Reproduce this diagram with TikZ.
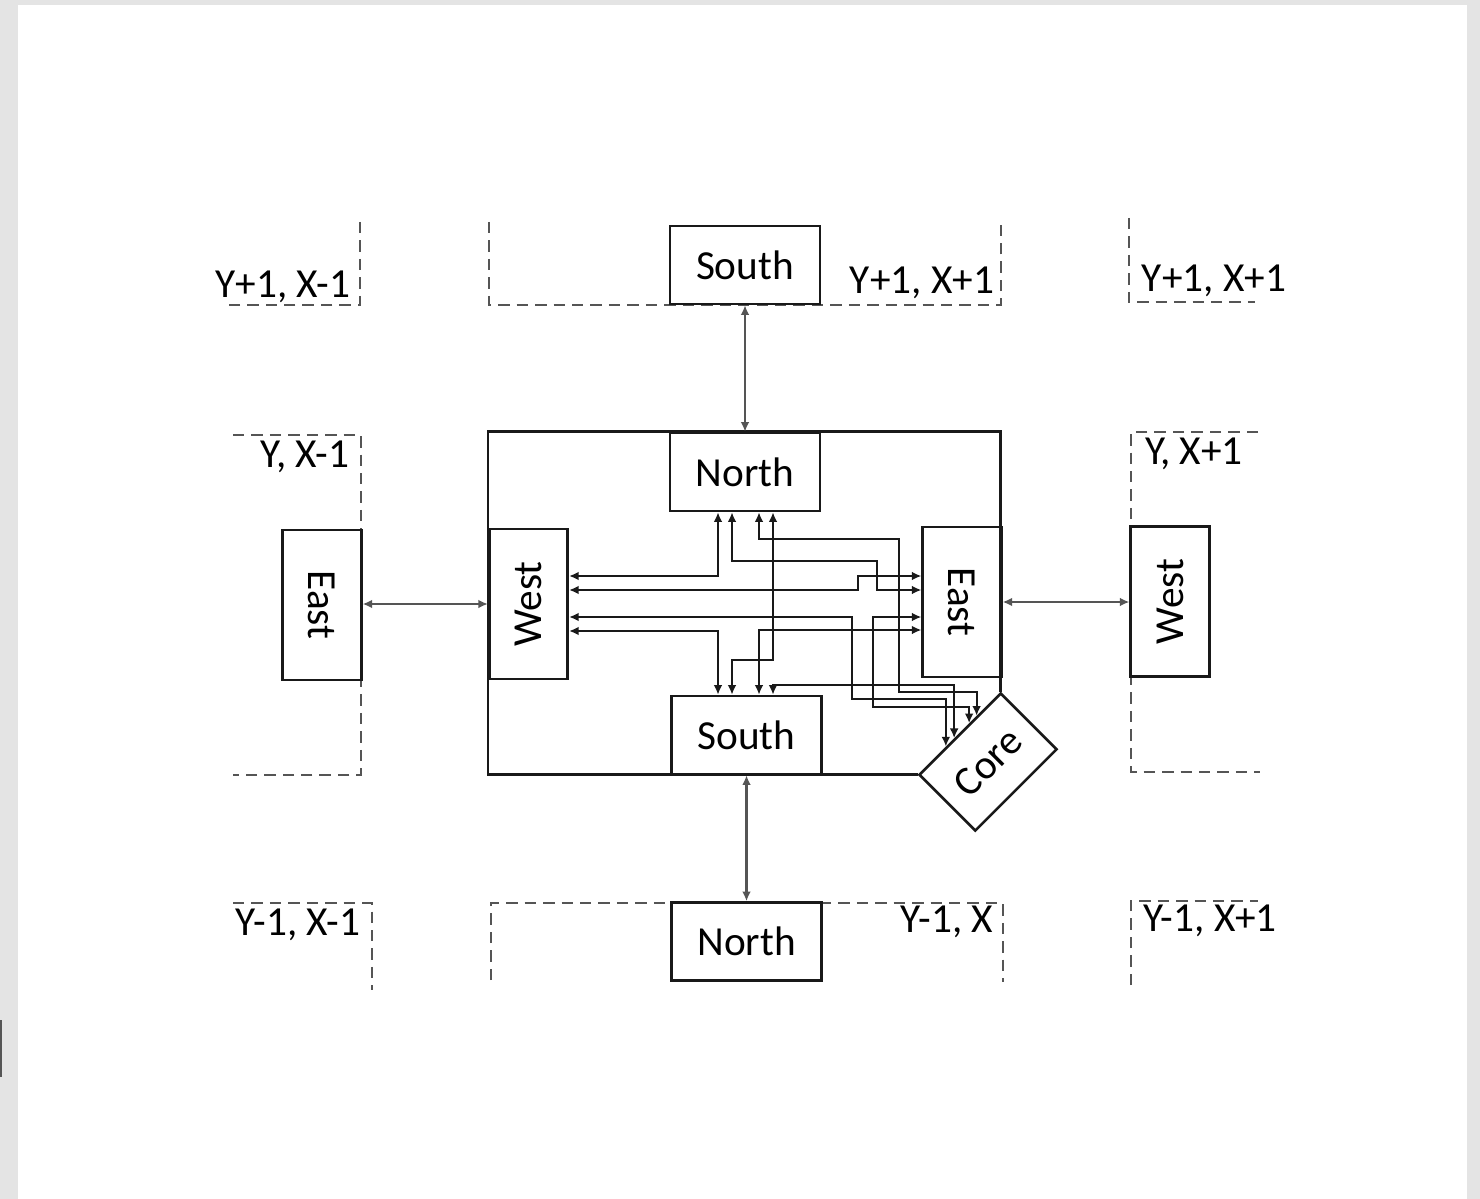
\documentclass[tikz,border=0pt]{standalone}
\usepackage{fontspec}
\setmainfont{Carlito}
\usetikzlibrary{arrows.meta, positioning, calc}
\definecolor{mydark}{RGB}{25,25,25}
\definecolor{mygrey}{RGB}{85,85,85}
\definecolor{pagegrey}{RGB}{228,228,228}
\newcommand{\cellfont}{\fontsize{23.5}{28}\selectfont}
\tikzset{
  block/.style={rectangle, draw=mydark, fill=white, line width=1.5pt,
    inner sep=0pt, font=\cellfont},
  hblock/.style={block, minimum width=3cm, minimum height=1.56cm},
  vblock/.style={block, minimum width=1.57cm, minimum height=3cm},
  arrow/.style={{Latex[length=5.5pt,width=5pt]}-{Latex[length=5.5pt,width=5pt]},
    line width=1.2pt, color=mydark},
  link/.style={arrow, color=mygrey},
  border/.style={mygrey, line width=1.5pt, dash pattern=on 6.5pt off 4pt},
  tag/.style={font=\cellfont, inner sep=0pt}
}

\begin{document}
\begin{tikzpicture}[x=0.02cm, y=-0.02cm]
    \useasboundingbox (0,0) rectangle (1480,1199);
    % Page
    \fill[pagegrey] (0,0) rectangle (1480,1199);
    \fill[white] (18,5) rectangle (1467,1199);
    \draw[mygrey, line width=1pt] (1,1020) -- (1,1077);
    % Neighbour cells
    \draw[border] (360,222) |- (222,305);
    \draw[border] (489,222) |- (1001,305) -- (1001,225);
    \draw[border] (1129,218) |- (1255,302);
    \draw[border] (233,435) -| (361,775) -- (233,775);
    \draw[border] (1258,432) -| (1131,772) -- (1260,772);
    \draw[border] (233,903) -| (372,990);
    \draw[border] (491,980) |- (1003,903) -- (1003,982);
    \draw[border] (1131,985) |- (1258,901);
    \node[tag] (tlTag) at (283,287) {Y+1, X-1};
    \node[tag] (tmTag) at (922,283) {Y+1, X+1};
    \node[tag] (trTag) at (1214,281) {Y+1, X+1};
    \node[tag] (mlTag) at (305,457) {Y, X-1};
    \node[tag] (mrTag) at (1194,454) {Y, X+1};
    \node[tag] (blTag) at (298,925) {Y-1, X-1};
    \node[tag] (bmTag) at (947,922) {Y-1, X};
    \node[tag] (brTag) at (1210,921) {Y-1, X+1};
    \node[hblock] (tSouth) at (745,265) {South};
    \node[vblock] (lEast) at (322,605) {\rotatebox{-90}{East}};
    \node[vblock] (rWest) at (1170,601.5) {\rotatebox{90}{West}};
    \node[hblock] (bNorth) at (746.5,941.5) {North};
    % Router Y, X
    \node[hblock] (cNorth) at (745,472) {North};
    \node[hblock] (cSouth) at (746.5,735) {South};
    \node[vblock] (cWest) at (528.5,604) {\rotatebox{90}{West}};
    \node[vblock] (cEast) at (962,602) {\rotatebox{-90}{East}};
    \node[block, rotate=45, minimum width=2.3cm, minimum height=1.58cm] (core) at (988,762) {Core};
    \draw[line width=1.5pt, color=mydark] (core.north west) -| (cWest.west |- cNorth.north) -| (core.north east);
    % Ports on the core
    \coordinate (k1) at ($(core.north west)!0.34!(core.north east)$);
    \coordinate (k2) at ($(core.north west)!0.44!(core.north east)$);
    \coordinate (k3) at ($(core.north west)!0.62!(core.north east)$);
    \coordinate (k4) at ($(core.north west)!0.71!(core.north east)$);
    % Crossbar
    \draw[arrow] (cWest.east |- 0,576) -| (cNorth.south -| 718,0);
    \draw[arrow] (cWest.east |- 0,590) -- (858,590) |- (cEast.west |- 0,576);
    \draw[arrow] (cNorth.south -| 732,0) |- (877,561) |- (cEast.west |- 0,590);
    \draw[arrow] (cNorth.south -| 759,0) |- (899,539) |- (k4 |- 0,692) -- (k4);
    \draw[arrow] (cNorth.south -| 773,0) |- (732,660) -- (cSouth.north -| 732,0);
    \draw[arrow] (cWest.east |- 0,617) -| (852,699) -| (k1);
    \draw[arrow] (cWest.east |- 0,631) -| (cSouth.north -| 718,0);
    \draw[arrow] (cEast.west |- 0,617) -| (873,707) -| (k3);
    \draw[arrow] (cEast.west |- 0,630) -| (cSouth.north -| 759,0);
    \draw[arrow] (cSouth.north -| 773,0) |- (k2 |- 0,685) -- (k2);
    % Links to neighbours
    \draw[link] (cNorth.north) -- (tSouth.south);
    \draw[link] (cSouth.south) -- (bNorth.north);
    \draw[link] (cWest.west) -- (lEast.east |- cWest.west);
    \draw[link] (cEast.east) -- (rWest.west |- cEast.east);
\end{tikzpicture}
\end{document}
